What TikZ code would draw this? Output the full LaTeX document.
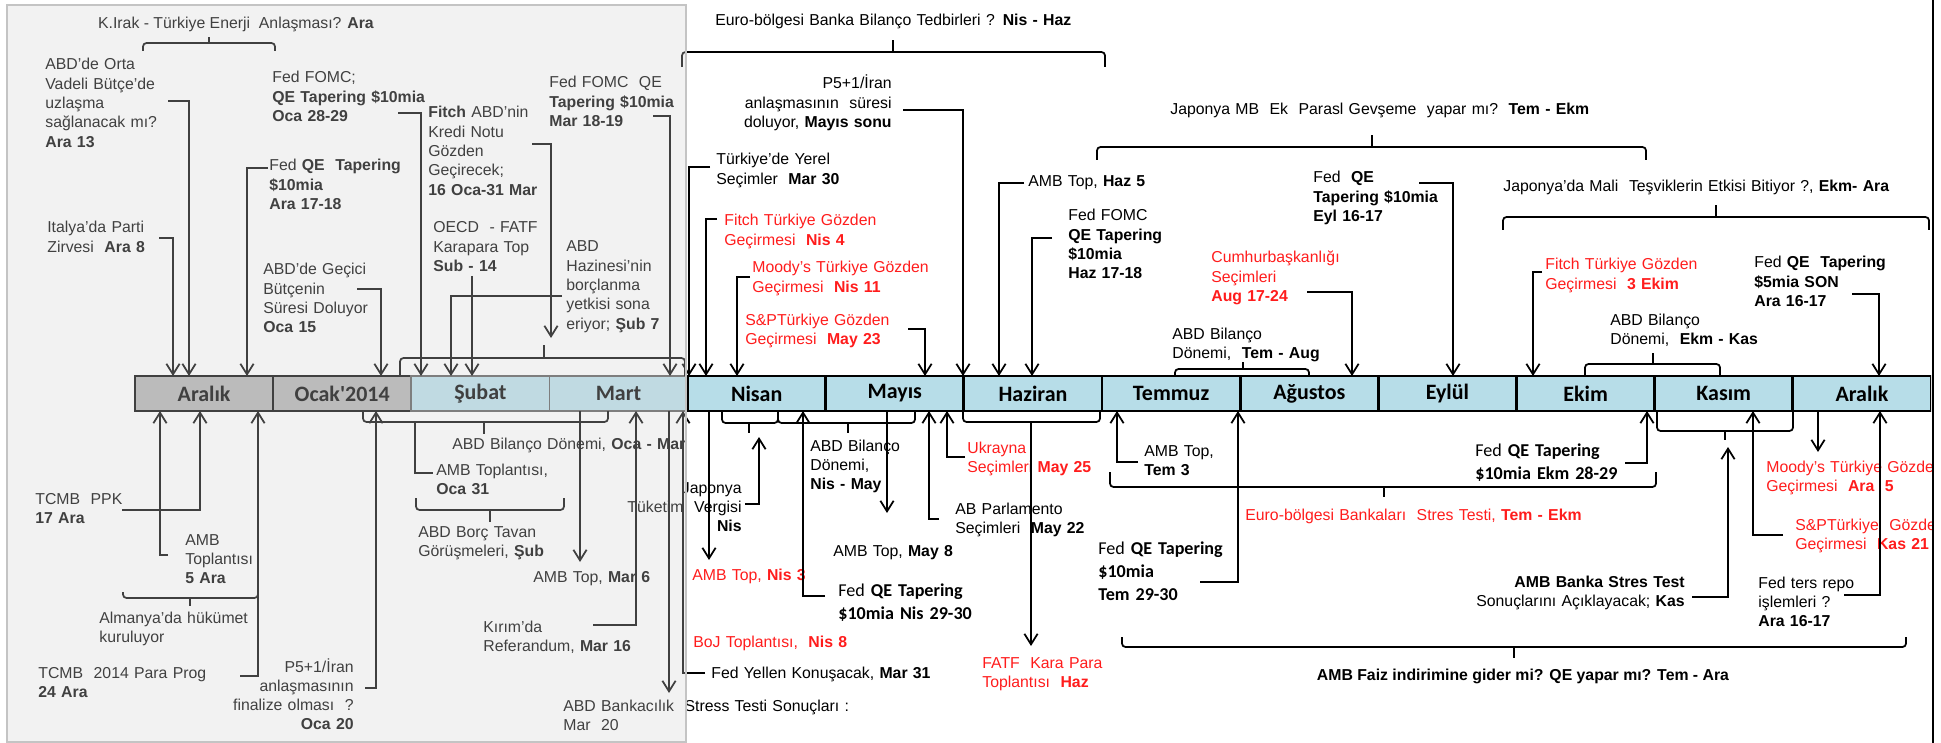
\documentclass[tikz,border=0pt]{standalone}
\usepackage{fontspec}
\setmainfont{Liberation Sans}
\newfontfamily\calfont{Carlito}
\usetikzlibrary{arrows.meta,calc}

\definecolor{cellblue}{HTML}{B7DDE8}
\definecolor{cellgray}{HTML}{B0B0B0}
\definecolor{veil}{HTML}{D5D5D5}
\definecolor{veilline}{HTML}{C4C4C4}
\definecolor{alarmred}{HTML}{FF1C1C}

\tikzset{
  txt/.style={inner sep=0pt, text width=12cm, align=left, anchor=base west,
    font=\fontsize{9}{11}\selectfont},
  txtr/.style={txt, align=right, anchor=base east},
  txtc/.style={inner sep=0pt, anchor=base, font=\fontsize{9}{11}\selectfont},
  cal/.style={txt, font=\calfont\fontsize{10.3}{13.2}\selectfont},
  warn/.style={text=alarmred},
  arr/.style={line width=1pt, -{Straight Barb[length=6pt,width=7.5pt]}},
  brk/.style={line width=1pt, rounded corners=2pt},
  month/.style={draw, line width=1.6pt, fill=cellblue, inner sep=0pt,
    minimum width=2.763cm, minimum height=0.7cm,
    font=\calfont\bfseries\fontsize{12.5}{14}\selectfont},
}

\begin{document}
\begin{tikzpicture}[x=0.02cm, y=-0.02cm]
\useasboundingbox (0,0) rectangle (1941,743);
\begin{scope}
\clip (0,0) rectangle (1931,743);

% the months
\node[month, fill=cellgray, line width=1.2pt] (ara0) at (204.1,393.5) {Aralık};
\node[month, fill=cellgray, line width=1.2pt] (oca) at (342.2,393.5) {Ocak'2014};
\node[month, draw=black!65, line width=1pt] (sub) at (480.4,393.5) {Şubat};
\node[month, draw=black!65, line width=1pt] (mar) at (618.5,393.5) {Mart};
\node[month] (nis) at (756.7,393.5) {Nisan};
\node[month] (may) at (894.8,393.5) {Mayıs};
\node[month] (haz) at (1033.0,393.5) {Haziran};
\node[month] (tem) at (1171.1,393.5) {Temmuz};
\node[month] (agu) at (1309.3,393.5) {Ağustos};
\node[month] (eyl) at (1447.4,393.5) {Eylül};
\node[month] (ekm) at (1585.6,393.5) {Ekim};
\node[month] (kas) at (1723.7,393.5) {Kasım};
\node[month] (ara) at (1861.9,393.5) {Aralık};

% points on the bar
\coordinate (tItalya) at (173,376);
\coordinate (tOrta) at (189,376);
\coordinate (tQeAra) at (247,376);
\coordinate (tGecici) at (381,376);
\coordinate (tFomcOca) at (421,376);
\coordinate (tHazine) at (451,376);
\coordinate (tOecd) at (472,376);
\coordinate (tFitchAbd) at (551,338);
\coordinate (tFomcMar) at (670,376);
\coordinate (tYerel) at (689,376);
\coordinate (tFitchNis) at (706,376);
\coordinate (tMoodyNis) at (737,376);
\coordinate (tSpMay) at (925,376);
\coordinate (tIran) at (963,376);
\coordinate (tHaz5) at (999,376);
\coordinate (tFomcHaz) at (1032,376);
\coordinate (tCumhur) at (1352,376);
\coordinate (tEyl) at (1453,376);
\coordinate (tFitchEkm) at (1533,376);
\coordinate (tSon) at (1879,376);
\coordinate (bAmb5) at (160,411);
\coordinate (bPpk) at (200,411);
\coordinate (bProg) at (258,411);
\coordinate (bIran) at (376,411);
\coordinate (bOca31) at (415,422);
\coordinate (bMar6) at (580,411);
\coordinate (bKirim) at (636,411);
\coordinate (bStress) at (669,411);
\coordinate (bYellen) at (683,411);
\coordinate (bNis3) at (709,411);
\coordinate (bJapon) at (759,437);
\coordinate (bNis29) at (803,411);
\coordinate (bMay8) at (887,411);
\coordinate (bAbParl) at (929,411);
\coordinate (bUkr) at (947,411);
\coordinate (bFatf) at (1031,422);
\coordinate (bTem3) at (1117,411);
\coordinate (bTem29) at (1238,411);
\coordinate (bEkm28) at (1647,411);
\coordinate (bStres) at (1728,447);
\coordinate (bSpKas) at (1753,411);
\coordinate (bMoodyAra) at (1818,411);
\coordinate (bRepo) at (1880,411);

% above, Aralik - Mart
\node[txtc] (irak) at (236,29) {K.Irak - Türkiye Enerji\ \ Anlaşması? \textbf{Ara}};
\node[txt] (orta) at (45,70) {ABD'de Orta\\Vadeli Bütçe'de\\uzlaşma\\sağlanacak mı?\\\textbf{Ara 13}};
\node[txt] (italya) at (47,233) {Italya'da Parti\\Zirvesi\ \ \textbf{Ara 8}};
\node[txt] (fomcOca) at (272,83) {Fed FOMC;\\\textbf{QE Tapering \$10mia}\\\textbf{Oca 28-29}};
\node[txt] (qeAra) at (269,171) {Fed \textbf{QE\ \ Tapering}\\\textbf{\$10mia}\\\textbf{Ara 17-18}};
\node[txt] (fitchAbd) at (428,118) {\textbf{Fitch} ABD'nin\\Kredi Notu\\Gözden\\Geçirecek;\\\textbf{16 Oca-31 Mar}};
\node[txt] (oecd) at (433,233) {OECD\ \ - FATF\\Karapara Top\\\textbf{Sub - 14}};
\node[txt] (fomcMar) at (549,88) {Fed FOMC\ \ QE\\\textbf{Tapering \$10mia}\\\textbf{Mar 18-19}};
\node[txt] (hazine) at (566,252) {ABD\\Hazinesi'nin\\borçlanma\\yetkisi sona\\eriyor; \textbf{Şub 7}};
\node[txt] (gecici) at (263,275) {ABD'de Geçici\\Bütçenin\\Süresi Doluyor\\\textbf{Oca 15}};

\draw[brk] (143,51) |- (275,43) -- (275,51);
\draw[brk] (209,43) -- (209,37);
\draw[brk] (400,376) |- (685,358) -- (685,376);
\draw[brk] (544,358) -- (544,345);

\draw[arr] ($(orta.base west)+(123,31)$) -| (tOrta);
\draw[arr] ($(italya.base west)+(112,5)$) -| (tItalya);
\draw[arr] ($(fomcOca.base west)+(126,30)$) -| (tFomcOca);
\draw[arr] ($(qeAra.base west)+(-1,-3)$) -| (tQeAra);
\draw[arr] ($(fitchAbd.base west)+(104,26)$) -| (tFitchAbd);
\draw[arr] ($(oecd.base west)+(39,43)$) -- (tOecd);
\draw[arr] ($(fomcMar.base west)+(104,28)$) -| (tFomcMar);
\draw[arr] ($(hazine.base west)+(-4,44)$) -| (tHazine);
\draw[arr] ($(gecici.base west)+(94,14)$) -| (tGecici);

% below, Aralik - Mart
\node[txt] (ppk) at (35,504) {TCMB\ \ PPK\\\textbf{17 Ara}};
\node[txt] (amb5) at (185,545) {AMB\\Toplantısı\\\textbf{5 Ara}};
\node[txt] (almanya) at (99,623) {Almanya'da hükümet\\kuruluyor};
\node[txt] (prog) at (38,678) {TCMB\ \ 2014 Para Prog\\\textbf{24 Ara}};
\node[txtr] (iranOca) at (354,672) {P5+1/İran\\anlaşmasının\\finalize olması\ \ ?\\\textbf{Oca 20}};
\node[txt] (bilOca) at (452,449) {ABD Bilanço Dönemi, \textbf{Oca - Mar}};
\node[txt] (oca31) at (436,475) {AMB Toplantısı,\\\textbf{Oca 31}};
\node[txt] (borc) at (418,537) {ABD Borç Tavan\\Görüşmeleri, \textbf{Şub}};
\node[txt] (mar6) at (533,582) {AMB Top, \textbf{Mar 6}};
\node[txt] (kirim) at (483,632) {Kırım'da\\Referandum, \textbf{Mar 16}};
\node[txt] (stress) at (563,711) {ABD Bankacılık\ \ Stress Testi Sonuçları :\\Mar\ \ 20};
\node[txt] (yellen) at (711,678) {Fed Yellen Konuşacak, \textbf{Mar 31}};

\draw[brk] (123,592) |- (258,598) -- (258,592);
\draw[brk] (190,598) -- (190,606);
\draw[brk] (363,411) |- (608,422) -- (608,411);
\draw[brk] (484,422) -- (484,434);
\draw[brk] (416,498) |- (564,510) -- (564,498);
\draw[brk] (490,510) -- (490,522);

\draw[arr] ($(ppk.base west)+(87,6)$) -| (bPpk);
\draw[arr] ($(amb5.base west)+(-17,10)$) -| (bAmb5);
\draw[arr] ($(prog.base west)+(202,-2)$) -| (bProg);
\draw[arr] ($(iranOca.base east)+(11,16)$) -| (bIran);
\draw[line width=1pt] (bOca31) |- ($(oca31.base west)+(-3,-2)$);
\draw[arr] (bMar6) -- ($(mar6.base west)+(47,-20)$);
\draw[arr] ($(kirim.base west)+(110,-7)$) -| (bKirim);
\draw[arr] (bStress) -- ($(stress.base west)+(106,-18)$);
\draw[arr] ($(yellen.base west)+(-6,-5)$) -| (bYellen);

% above, Nisan - Aralik
\node[txt] (euroTop) at (715,26) {Euro-bölgesi Banka Bilanço Tedbirleri ? \textbf{Nis - Haz}};
\node[txtr] (iranMay) at (892,89) {P5+1/İran\\anlaşmasının\ \ süresi\\doluyor, \textbf{Mayıs sonu}};
\node[txt] (yerel) at (716,165) {Türkiye'de Yerel\\Seçimler\ \ \textbf{Mar 30}};
\node[txt, warn] (fitchNis) at (724,226) {Fitch Türkiye Gözden\\Geçirmesi\ \ \textbf{Nis 4}};
\node[txt, warn] (moodyNis) at (752,273) {Moody's Türkiye Gözden\\Geçirmesi\ \ \textbf{Nis 11}};
\node[txt, warn] (spMay) at (745,325) {S\&PTürkiye Gözden\\Geçirmesi\ \ \textbf{May 23}};
\node[txt] (japMb) at (1170,115) {Japonya MB\ \ Ek\ \ Parasl Gevşeme\ \ yapar mı?\ \ \textbf{Tem - Ekm}};
\node[txt] (haz5) at (1028,187) {AMB Top, \textbf{Haz 5}};
\node[txt] (fomcHaz) at (1068,221) {Fed FOMC\\\textbf{QE Tapering}\\\textbf{\$10mia}\\\textbf{Haz 17-18}};
\node[txt] (eylQe) at (1313,183) {Fed\ \ \textbf{QE}\\\textbf{Tapering \$10mia}\\\textbf{Eyl 16-17}};
\node[txt, warn] (cumhur) at (1211,263) {Cumhurbaşkanlığı\\Seçimleri\\\textbf{Aug 17-24}};
\node[txt] (bilTem) at (1172,339) {ABD Bilanço\\Dönemi,\ \ \textbf{Tem - Aug}};
\node[txt] (japMali) at (1503,192) {Japonya'da Mali\ \ Teşviklerin Etkisi Bitiyor ?, \textbf{Ekm- Ara}};
\node[txt, warn] (fitchEkm) at (1545,270) {Fitch Türkiye Gözden\\Geçirmesi\ \ \textbf{3 Ekim}};
\node[txt] (son) at (1754,268) {Fed \textbf{QE\ \ Tapering}\\\textbf{\$5mia SON}\\\textbf{Ara 16-17}};
\node[txt] (bilEkm) at (1610,325) {ABD Bilanço\\Dönemi,\ \ \textbf{Ekm - Kas}};

\draw[brk] (682,67) |- (1105,52) -- (1105,67);
\draw[brk] (893,52) -- (893,40);
\draw[brk] (1097,160) |- (1646,147) -- (1646,160);
\draw[brk] (1372,147) -- (1372,135);
\draw[brk] (1503,230) |- (1929,217) -- (1929,230);
\draw[brk] (1716,217) -- (1716,205);
\draw[brk] (1175,376) |- (1309,369) -- (1309,376);
\draw[brk] (1243,369) -- (1243,362);
\draw[brk] (1585,376) |- (1720,364) -- (1720,376);
\draw[brk] (1653,364) -- (1653,353);

\draw[arr] ($(iranMay.base east)+(11,21)$) -| (tIran);
\draw[arr] ($(yerel.base west)+(-6,2)$) -| (tYerel);
\draw[arr] ($(fitchNis.base west)+(-7,-7)$) -| (tFitchNis);
\draw[arr] ($(moodyNis.base west)+(-2,4)$) -| (tMoodyNis);
\draw[arr] ($(spMay.base west)+(163,4)$) -| (tSpMay);
\draw[arr] ($(haz5.base west)+(-4,-4)$) -| (tHaz5);
\draw[arr] ($(fomcHaz.base west)+(-16,17)$) -| (tFomcHaz);
\draw[arr] ($(eylQe.base west)+(106,0)$) -| (tEyl);
\draw[arr] ($(cumhur.base west)+(96,29)$) -| (tCumhur);
\draw[arr] ($(fitchEkm.base west)+(-3,2)$) -| (tFitchEkm);
\draw[arr] ($(son.base west)+(98,26)$) -| (tSon);

% below, Nisan - Aralik
\node[txtr] (japon) at (742,493) {Japonya\\Tüketim\ \ Vergisi\\\textbf{Nis}};
\node[txt] (bilNis) at (810,451) {ABD Bilanço\\Dönemi,\\\textbf{Nis - May}};
\node[txt, warn] (nis3) at (692,580) {AMB Top, \textbf{Nis 3}};
\node[txt, warn] (boj) at (693,647) {BoJ Toplantısı,\ \ \textbf{Nis 8}};
\node[cal] (nis29) at (838,596) {Fed \textbf{QE Tapering}\\\textbf{\$10mia Nis 29-30}};
\node[txt] (may8) at (833,556) {AMB Top, \textbf{May 8}};
\node[txt] (abParl) at (955,514) {AB Parlamento\\Seçimleri\ \ \textbf{May 22}};
\node[txt, warn] (ukr) at (967,453) {Ukrayna\\Seçimleri \textbf{May 25}};
\node[txt, warn] (fatf) at (982,668) {FATF\ \ Kara Para\\Toplantısı\ \ \textbf{Haz}};
\node[txt] (tem3) at (1144,456) {AMB Top,\\\textbf{Tem 3}};
\node[cal] (tem29) at (1098,554) {Fed \textbf{QE Tapering}\\\textbf{\$10mia}\\\textbf{Tem 29-30}};
\node[txt, warn] (euroStres) at (1245,520) {Euro-bölgesi Bankaları\ \ Stres Testi, \textbf{Tem - Ekm}};
\node[cal] (ekm28) at (1475,456) {Fed \textbf{QE Tapering}\\\textbf{\$10mia Ekm 28-29}};
\node[txtr] (stres) at (1685,587) {\textbf{AMB Banka Stres Test}\\Sonuçlarını Açıklayacak; \textbf{Kas}};
\node[txt, warn] (spKas) at (1795,530) {S\&PTürkiye\ \ Gözden\\Geçirmesi\ \ \textbf{Kas 21}};
\node[txt, warn] (moodyAra) at (1766,472) {Moody's Türkiye Gözden\\Geçirmesi\ \ \textbf{Ara\ \ 5}};
\node[txt] (repo) at (1758,588) {Fed ters repo\\işlemleri ?\\\textbf{Ara 16-17}};
\node[txtc] (faiz) at (1523,680) {\textbf{AMB Faiz indirimine gider mi? QE yapar mı? Tem - Ara}};

\draw[brk] (722,411) |- (778,423) -- (778,411);
\draw[brk] (749,423) -- (749,433);
\draw[brk] (778,411) |- (915,423) -- (915,411);
\draw[brk] (848,423) -- (848,433);
\draw[brk] (963,411) |- (1100,422) -- (1100,411);
\draw[brk] (1110,472) |- (1656,487) -- (1656,472);
\draw[brk] (1384,487) -- (1384,497);
\draw[brk] (1657,411) |- (1793,431) -- (1793,411);
\draw[brk] (1725,431) -- (1725,440);
\draw[brk] (1122,637) |- (1906,647) -- (1906,637);
\draw[brk] (1514,647) -- (1514,658);

\draw[arr] ($(japon.base east)+(3,11)$) -| (bJapon);
\draw[arr] (bNis3) -- ($(nis3.base west)+(17,-20)$);
\draw[arr] ($(nis29.base west)+(-13,0)$) -| (bNis29);
\draw[arr] (bMay8) -- ($(may8.base west)+(54,-43)$);
\draw[arr] ($(abParl.base west)+(-16,5)$) -| (bAbParl);
\draw[arr] ($(ukr.base west)+(-2,4)$) -| (bUkr);
\draw[arr] (bFatf) -- ($(fatf.base west)+(49,-22)$);
\draw[arr] ($(tem3.base west)+(-6,6)$) -| (bTem3);
\draw[arr] ($(tem29.base west)+(102,28)$) -| (bTem29);
\draw[arr] ($(ekm28.base west)+(150,7)$) -| (bEkm28);
\draw[arr] ($(stres.base east)+(7,10)$) -| (bStres);
\draw[arr] ($(spKas.base west)+(-12,5)$) -| (bSpKas);
\draw[arr] (bMoodyAra) -- ($(moodyAra.base west)+(52,-20)$);
\draw[arr] ($(repo.base west)+(86,7)$) -| (bRepo);
\end{scope}

% right edge and the veil over the past months
\draw[line width=1.2pt] (1933,0) -- (1933,743);
\fill[veil, opacity=0.3] (7,5) rectangle (686,742);
\draw[veilline, line width=0.8pt] (7,5) rectangle (686,742);
\end{tikzpicture}
\end{document}
